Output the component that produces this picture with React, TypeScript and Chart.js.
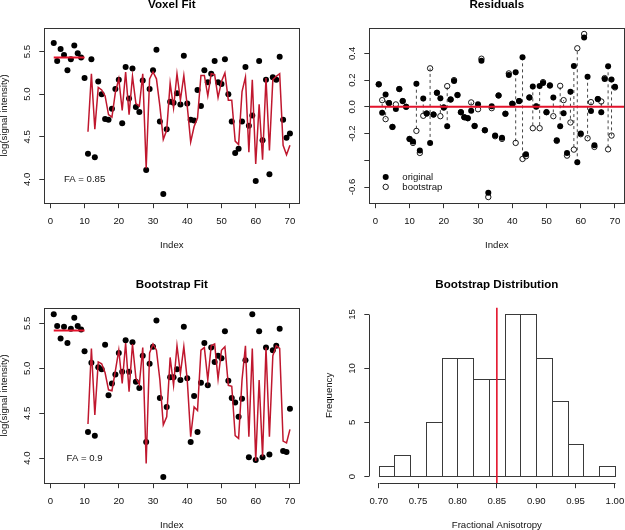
import React, { useEffect, useRef } from 'react';
import { Chart, registerables } from 'chart.js';

Chart.register(...registerables);

// ---------------- data ----------------
const volumeIndex = [
  1, 2, 3, 4, 5, 6, 7, 8, 9, 10, 11, 12, 13, 14, 15, 16, 17, 18, 19, 20,
  21, 22, 23, 24, 25, 26, 27, 28, 29, 30, 31, 32, 33, 34, 35, 36, 37, 38, 39, 40,
  41, 42, 43, 44, 45, 46, 47, 48, 49, 50, 51, 52, 53, 54, 55, 56, 57, 58, 59, 60,
  61, 62, 63, 64, 65, 66, 67, 68, 69, 70,
];
const b0Index = volumeIndex.slice(0, 10);
const fitIndex = volumeIndex.slice(10);

const voxelSignal = [
  5.60, 5.39, 5.53, 5.46, 5.28, 5.41, 5.57, 5.48, 5.43, 5.19,
  4.30, 5.41, 4.26, 5.15, 5.00, 4.71, 4.70, 4.83, 5.06, 5.17,
  4.66, 5.32, 4.95, 5.30, 4.85, 4.79, 5.16, 4.11, 5.06, 5.28,
  5.52, 4.68, 3.83, 4.59, 4.91, 4.90, 5.01, 4.88, 5.45, 4.89,
  4.70, 4.69, 5.05, 4.86, 5.28, 5.14, 5.24, 5.39, 5.14, 5.12,
  5.41, 5.00, 4.68, 4.31, 4.36, 4.68, 5.32, 4.63, 4.75, 3.98,
  5.39, 4.46, 5.17, 4.06, 5.20, 5.17, 5.44, 4.70, 4.49, 4.54,
];
const voxelB0 = 5.43;
const voxelFit = [
  4.56, 5.24, 4.59, 5.08, 5.05, 4.98, 4.76, 4.73, 5.02, 5.18,
  4.81, 5.26, 4.76, 5.21, 4.89, 4.86, 5.24, 4.13, 5.18, 5.26,
  5.18, 4.86, 4.47, 4.58, 5.13, 4.84, 5.24, 4.93, 5.22, 4.86,
  4.44, 4.62, 4.72, 5.22, 5.22, 4.98, 5.24, 5.23, 4.96, 5.15,
  5.25, 4.93, 4.93, 4.45, 4.41, 5.03, 5.20, 4.32, 5.17, 4.18,
  4.88, 4.23, 5.19, 4.34, 5.17, 5.21, 5.24, 4.40, 4.29, 4.40,
];

const residOriginal = [
  0.168, -0.045, 0.093, 0.028, -0.150, -0.017, 0.133, 0.043, 0.000, -0.240,
  -0.260, 0.173, -0.327, 0.063, -0.050, -0.270, -0.058, 0.105, 0.065, -0.005,
  -0.145, 0.055, 0.193, 0.088, -0.040, -0.078, -0.085, -0.030, -0.143, 0.020,
  0.345, -0.175, -0.642, 0.005, -0.215, 0.085, -0.232, -0.052, 0.238, 0.023,
  0.258, 0.043, 0.370, -0.355, 0.070, 0.153, 0.000, 0.155, 0.178, -0.040,
  0.160, 0.070, -0.250, -0.145, -0.048, -0.345, 0.113, 0.305, -0.415, -0.200,
  0.518, 0.225, -0.032, -0.287, 0.058, -0.040, 0.208, 0.303, 0.205, 0.150,
];
const residBootstrap = [
  0.168, 0.050, -0.092, 0.028, -0.150, 0.018, 0.133, 0.043, 0.000, -0.240,
  -0.270, -0.180, -0.345, -0.067, -0.050, 0.288, -0.058, 0.105, -0.070, -0.005,
  0.155, 0.055, 0.200, 0.088, -0.040, -0.078, -0.085, 0.033, -0.143, -0.018,
  0.360, -0.175, -0.675, -0.010, -0.220, 0.085, -0.240, -0.052, 0.250, 0.023,
  -0.270, 0.043, -0.390, -0.370, 0.070, -0.160, 0.005, -0.160, 0.185, -0.040,
  0.160, -0.070, -0.255, 0.157, 0.050, -0.365, -0.117, -0.320, 0.438, -0.205,
  0.545, -0.235, 0.035, -0.300, 0.058, 0.040, 0.215, -0.318, -0.215, 0.145,
];

const bootSignal = [
  5.60, 5.47, 5.33, 5.46, 5.28, 5.44, 5.56, 5.47, 5.43, 5.19,
  4.29, 5.06, 4.25, 5.01, 4.99, 5.26, 4.70, 4.83, 4.93, 5.17,
  4.96, 5.31, 4.96, 5.29, 4.85, 4.78, 5.14, 4.18, 5.05, 5.24,
  5.53, 4.67, 3.79, 4.57, 4.90, 4.90, 4.99, 4.87, 5.46, 4.89,
  4.18, 4.69, 4.29, 4.84, 5.28, 4.81, 5.23, 5.07, 5.14, 5.11,
  5.41, 4.86, 4.67, 4.62, 4.46, 4.66, 5.09, 4.01, 5.60, 3.98,
  5.41, 4.01, 5.23, 4.04, 5.20, 5.25, 5.44, 4.08, 4.07, 4.55,
];
const bootB0 = 5.42;
const bootFit = [
  4.38, 5.22, 4.48, 5.07, 5.05, 4.95, 4.76, 4.75, 4.97, 5.20,
  4.83, 5.28, 4.74, 5.27, 4.89, 4.82, 5.23, 3.94, 5.17, 5.27,
  5.20, 4.87, 4.37, 4.46, 5.12, 4.81, 5.25, 4.94, 5.24, 4.87,
  4.24, 4.57, 4.53, 5.20, 5.23, 4.87, 5.25, 5.27, 4.88, 5.20,
  5.24, 4.81, 4.80, 4.25, 4.22, 4.87, 5.25, 4.24, 5.22, 3.97,
  4.87, 4.02, 5.23, 4.24, 5.14, 5.25, 5.22, 4.19, 4.17, 4.32,
];

const faOriginal = 0.85;
const faBootstrapLabel = 'FA = 0.9';
const faOriginalLabel = 'FA = 0.85';

const histEdges = [0.70, 0.72, 0.74, 0.76, 0.78, 0.80, 0.82, 0.84, 0.86, 0.88, 0.90, 0.92, 0.94, 0.96, 0.98, 1.00];
const histCounts = [1, 2, 0, 5, 11, 11, 9, 9, 15, 15, 11, 7, 3, 0, 1];

// ---------------- style / layout ----------------
const FONT = '"Liberation Sans", Arial, Helvetica, sans-serif';
const TXT = 9.6;
const TICK_FONT = { family: FONT, size: TXT };
const AXIS = '#333';
const INK = '#111';
const RED = '#e3122b';
const FIT = '#c0172e';

const PANEL_W = 330;
const PANEL_H = 280;
const AREA = { left: 57.3, top: 42.7, right: 312.4, bottom: 218.2 };
const TITLE_CENTER = 20.2;
const XTITLE_CENTER = 260.3;

const fmt1 = (v: number) => (Math.abs(v) < 1e-9 ? 0 : v).toFixed(1);
const fmtInt = (v: number) => String(Math.round(v));
const fmt2 = (v: number) => v.toFixed(2);

function xScaleCfg(min: number, max: number, step: number, fmt: (v: number) => string, title: string) {
  const lh = TXT * 1.2;
  return {
    type: 'linear',
    position: 'bottom',
    min,
    max,
    offset: false,
    afterFit: (s: any) => { s.height = PANEL_H - AREA.bottom; },
    ticks: {
      stepSize: step, includeBounds: false, autoSkip: false, maxRotation: 0, minRotation: 0,
      padding: 7, color: INK, font: TICK_FONT, callback: (v: any) => fmt(Number(v)),
    },
    grid: { display: true, drawOnChartArea: false, drawTicks: true, tickLength: 5, color: AXIS, lineWidth: 1, offset: false },
    border: { display: false },
    title: {
      display: !!title, text: title, color: INK, font: TICK_FONT,
      padding: { top: 0, bottom: PANEL_H - lh / 2 - XTITLE_CENTER },
    },
  };
}

function yScaleCfg(min: number, max: number, step: number, title: string) {
  return {
    type: 'linear',
    position: 'left',
    min,
    max,
    afterFit: (s: any) => { s.width = AREA.left; },
    ticks: { stepSize: step, includeBounds: false, display: false },
    grid: { display: true, drawOnChartArea: false, drawTicks: true, tickLength: 5, color: AXIS, lineWidth: 1 },
    border: { display: false },
    title: { display: !!title, text: title, color: INK, font: TICK_FONT, padding: { top: 11.8, bottom: 0 } },
  };
}

function titleCfg(text: string) {
  const size = 11.6;
  const lh = size * 1.2;
  const pt = TITLE_CENTER - lh / 2;
  return {
    display: true, text, fullSize: false, color: '#000',
    font: { family: FONT, size, weight: 'bold', lineHeight: 1.2 },
    padding: { top: pt, bottom: AREA.top - pt - lh },
  };
}

type Decor = {
  box?: boolean;
  axisLines?: boolean;
  yFmt: (v: number) => string;
  ySkip?: string[];
  hLine?: { y: number; color: string; width: number };
  vLine?: { x: number; color: string; width: number };
  texts?: { x: number; y: number; text: string }[];
  legend?: boolean;
  outlineBars?: boolean;
};

function decorPlugin(o: Decor) {
  return {
    id: 'decor',
    afterDatasetsDraw(chart: any) {
      const { ctx, chartArea: a, scales } = chart;
      const xs = scales.x;
      const ys = scales.y;
      ctx.save();
      ctx.lineCap = 'butt';
      if (o.outlineBars) {
        const meta = chart.getDatasetMeta(0);
        ctx.strokeStyle = '#3a3a3a';
        ctx.lineWidth = 1;
        meta.data.forEach((el: any) => {
          const p = el.getProps(['x', 'y', 'base', 'width'], true);
          const x0 = Math.round(p.x - p.width / 2) + 0.5;
          const x1 = Math.round(p.x + p.width / 2) + 0.5;
          const y0 = Math.round(p.y) + 0.5;
          const y1 = Math.round(p.base) + 0.5;
          ctx.strokeRect(x0, y0, x1 - x0, y1 - y0);
        });
      }
      if (o.hLine) {
        const py = ys.getPixelForValue(o.hLine.y);
        ctx.strokeStyle = o.hLine.color;
        ctx.lineWidth = o.hLine.width;
        ctx.beginPath();
        ctx.moveTo(a.left, py);
        ctx.lineTo(a.right, py);
        ctx.stroke();
      }
      if (o.vLine) {
        const px = xs.getPixelForValue(o.vLine.x);
        ctx.strokeStyle = o.vLine.color;
        ctx.lineWidth = o.vLine.width;
        ctx.beginPath();
        ctx.moveTo(px, a.top);
        ctx.lineTo(px, a.bottom);
        ctx.stroke();
      }
      ctx.fillStyle = INK;
      ctx.font = `${TXT}px ${FONT}`;
      if (o.texts) {
        ctx.textAlign = 'center';
        ctx.textBaseline = 'middle';
        o.texts.forEach((t) => {
          ctx.fillText(t.text, xs.getPixelForValue(t.x), ys.getPixelForValue(t.y));
        });
      }
      if (o.legend) {
        const sx = a.left + 16.4;
        const r1 = a.bottom - 26.3;
        const r2 = a.bottom - 16.3;
        ctx.fillStyle = '#000';
        ctx.beginPath();
        ctx.arc(sx, r1, 3, 0, Math.PI * 2);
        ctx.fill();
        ctx.strokeStyle = '#000';
        ctx.lineWidth = 0.9;
        ctx.beginPath();
        ctx.arc(sx, r2, 2.7, 0, Math.PI * 2);
        ctx.stroke();
        ctx.fillStyle = INK;
        ctx.textAlign = 'left';
        ctx.textBaseline = 'middle';
        ctx.fillText('original', a.left + 33, r1);
        ctx.fillText('bootstrap', a.left + 33, r2);
      }
      ctx.strokeStyle = AXIS;
      ctx.lineWidth = 1;
      if (o.box) {
        const l = Math.round(a.left) + 0.5;
        const t = Math.round(a.top) + 0.5;
        const r = Math.round(a.right) + 0.5;
        const b = Math.round(a.bottom) + 0.5;
        ctx.strokeRect(l, t, r - l, b - t);
      }
      if (o.axisLines) {
        const xt = xs.ticks;
        const yt = ys.ticks;
        const b = Math.round(a.bottom) + 0.5;
        const l = Math.round(a.left) + 0.5;
        ctx.beginPath();
        ctx.moveTo(Math.round(xs.getPixelForValue(xt[0].value)) + 0.5, b);
        ctx.lineTo(Math.round(xs.getPixelForValue(xt[xt.length - 1].value)) + 0.5, b);
        ctx.moveTo(l, Math.round(ys.getPixelForValue(yt[0].value)) + 0.5);
        ctx.lineTo(l, Math.round(ys.getPixelForValue(yt[yt.length - 1].value)) + 0.5);
        ctx.stroke();
      }
      // rotated y tick labels (R style, parallel to axis)
      ctx.fillStyle = INK;
      ctx.font = `${TXT}px ${FONT}`;
      ctx.textAlign = 'center';
      ctx.textBaseline = 'middle';
      ys.ticks.forEach((t: any) => {
        const lab = o.yFmt(t.value);
        if (o.ySkip && o.ySkip.includes(lab)) return;
        const py = ys.getPixelForValue(t.value);
        ctx.save();
        ctx.translate(a.left - 17, py);
        ctx.rotate(-Math.PI / 2);
        ctx.fillText(lab, 0, 0);
        ctx.restore();
      });
      ctx.restore();
    },
  };
}

function baseOptions(title: string, scales: any) {
  return {
    responsive: false,
    animation: false,
    devicePixelRatio: 1,
    events: [],
    layout: { autoPadding: false, padding: { left: 0, top: 0, bottom: 0, right: PANEL_W - AREA.right } },
    plugins: { legend: { display: false }, tooltip: { enabled: false }, title: titleCfg(title) },
    scales,
  };
}

// ---------------- chart configs ----------------
function fitPanel(title: string, signal: number[], b0: number, fit: number[], faLabel: string, yMin: number, yMax: number) {
  return {
    type: 'scatter',
    data: {
      datasets: [
        {
          data: [b0Index[0], b0Index[b0Index.length - 1]].map((x) => ({ x, y: b0 })),
          showLine: true, borderColor: RED, borderWidth: 2, pointRadius: 0,
        },
        {
          data: fitIndex.map((x, i) => ({ x, y: fit[i] })),
          showLine: true, borderColor: FIT, borderWidth: 1.5, pointRadius: 0, tension: 0,
        },
        {
          data: volumeIndex.map((x, i) => ({ x, y: signal[i] })),
          pointRadius: 3, pointBackgroundColor: '#000', pointBorderWidth: 0,
        },
      ],
    },
    options: baseOptions(title, {
      x: xScaleCfg(-1.76, 72.76, 10, fmtInt, 'Index'),
      y: yScaleCfg(yMin, yMax, 0.5, 'log(signal intensity)'),
    }),
    plugins: [decorPlugin({ box: true, yFmt: fmt1, texts: [{ x: 10, y: 4.0, text: faLabel }] })],
  };
}

function residualPanel() {
  const segments: any[] = [];
  volumeIndex.forEach((x, i) => {
    if (residOriginal[i] * residBootstrap[i] < 0) {
      segments.push({ x, y: residOriginal[i] }, { x, y: residBootstrap[i] }, { x, y: null });
    }
  });
  return {
    type: 'scatter',
    data: {
      datasets: [
        {
          data: volumeIndex.map((x, i) => ({ x, y: residBootstrap[i] })),
          pointRadius: 2.7, pointBackgroundColor: 'rgba(0,0,0,0)', pointBorderColor: '#000', pointBorderWidth: 0.9,
        },
        {
          data: volumeIndex.map((x, i) => ({ x, y: residOriginal[i] })),
          pointRadius: 3, pointBackgroundColor: '#000', pointBorderWidth: 0,
        },
        {
          data: segments, showLine: true, spanGaps: false, borderColor: '#333', borderWidth: 0.9,
          borderDash: [3, 3], pointRadius: 0,
        },
      ],
    },
    options: baseOptions('Residuals', {
      x: xScaleCfg(-1.76, 72.76, 10, fmtInt, 'Index'),
      y: yScaleCfg(-0.721, 0.592, 0.2, ''),
    }),
    plugins: [decorPlugin({ box: true, yFmt: fmt1, ySkip: ['-0.4'], hLine: { y: 0, color: RED, width: 2 }, legend: true })],
  };
}

function histPanel() {
  const centers = histCounts.map((_, i) => (histEdges[i] + histEdges[i + 1]) / 2);
  return {
    type: 'bar',
    data: {
      datasets: [
        {
          data: centers.map((x, i) => ({ x, y: histCounts[i] })),
          backgroundColor: '#fff', borderWidth: 0, barPercentage: 1, categoryPercentage: 1,
        },
      ],
    },
    options: baseOptions('Bootstrap Distribution', {
      x: xScaleCfg(0.688, 1.012, 0.05, fmt2, 'Fractional Anisotropy'),
      y: yScaleCfg(-0.624, 15.624, 5, 'Frequency'),
    }),
    plugins: [decorPlugin({ axisLines: true, outlineBars: true, yFmt: fmtInt, vLine: { x: faOriginal, color: RED, width: 1.6 } })],
  };
}

// ---------------- components ----------------
function ChartPanel({ left, top, make }: { left: number; top: number; make: () => any }) {
  const ref = useRef<HTMLCanvasElement>(null);
  useEffect(() => {
    const chart = new Chart(ref.current as HTMLCanvasElement, make());
    return () => chart.destroy();
  }, []);
  return (
    <canvas
      ref={ref}
      width={PANEL_W}
      height={PANEL_H}
      style={{ position: 'absolute', left, top, width: PANEL_W, height: PANEL_H }}
    />
  );
}

export default function App() {
  return (
    <div style={{ position: 'absolute', left: 0, top: 0, width: 625, height: 530, overflow: 'hidden', background: '#fff' }}>
      <ChartPanel left={-13} top={-15} make={() => fitPanel('Voxel Fit', voxelSignal, voxelB0, voxelFit, faOriginalLabel, 3.721, 5.78)} />
      <ChartPanel left={312} top={-15} make={residualPanel} />
      <ChartPanel left={-13} top={265} make={() => fitPanel('Bootstrap Fit', bootSignal, bootB0, bootFit, faBootstrapLabel, 3.722, 5.673)} />
      <ChartPanel left={312} top={265} make={histPanel} />
    </div>
  );
}
